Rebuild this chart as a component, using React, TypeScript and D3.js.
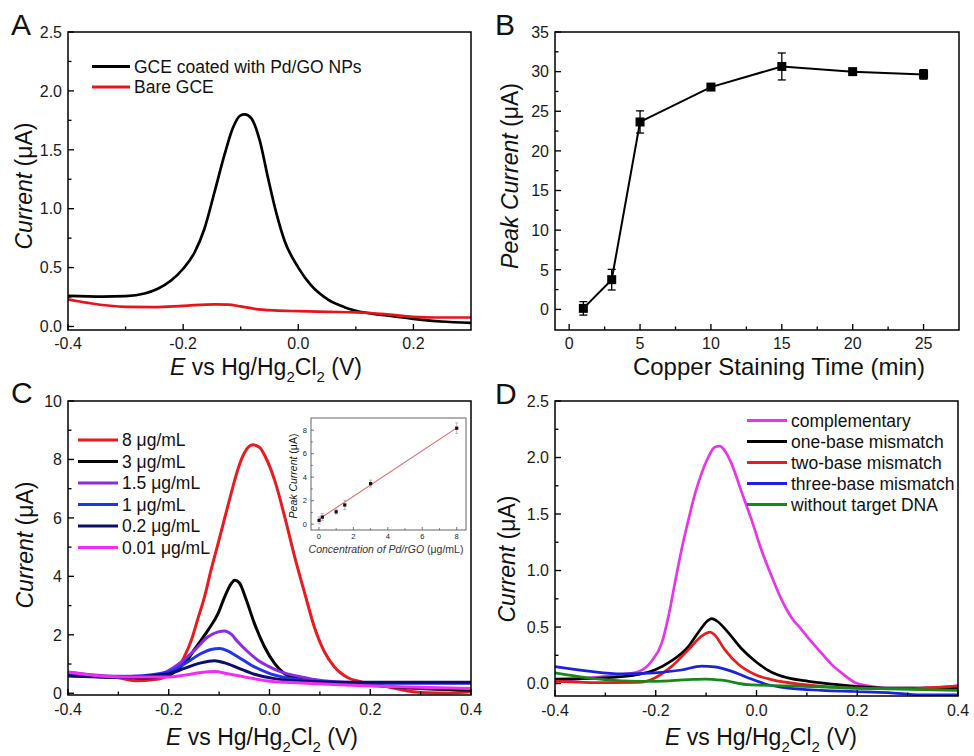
import React from 'react';
import * as d3 from 'd3';

const FONT = 'Liberation Sans, Arial, Helvetica, sans-serif';

type Pt = [number, number];

// ---------- Panel A: DPV, coated vs bare GCE
const aCoated: Pt[] = [
  [-0.4, 0.26], [-0.34, 0.254], [-0.3, 0.258], [-0.267, 0.28], [-0.244, 0.32], [-0.221, 0.39],
  [-0.2, 0.49], [-0.18, 0.63], [-0.163, 0.83], [-0.145, 1.15], [-0.128, 1.46], [-0.114, 1.68],
  [-0.101, 1.79], [-0.093, 1.8], [-0.082, 1.77], [-0.067, 1.58], [-0.053, 1.27], [-0.038, 0.96],
  [-0.024, 0.73], [0.0, 0.5], [0.022, 0.35], [0.051, 0.23], [0.08, 0.164], [0.1, 0.134],
  [0.15, 0.095], [0.2, 0.065], [0.248, 0.042], [0.3, 0.03],
];
const aBare: Pt[] = [
  [-0.4, 0.23], [-0.365, 0.2], [-0.3, 0.166], [-0.25, 0.164], [-0.2, 0.175], [-0.145, 0.188],
  [-0.122, 0.186], [-0.1, 0.17], [-0.076, 0.15], [-0.041, 0.136], [0.0, 0.13], [0.051, 0.124],
  [0.1, 0.12], [0.15, 0.105], [0.2, 0.082], [0.237, 0.076], [0.3, 0.076],
];
const aLegend = ['GCE coated with Pd/GO NPs', 'Bare GCE'];
const aColors = ['#000000', '#e8141a'];
const aXTicks = [-0.4, -0.2, 0.0, 0.2];
const aXMinor = [-0.3, -0.1, 0.1];
const aYTicks = [0, 0.5, 1.0, 1.5, 2.0, 2.5];
const aYMinor = [0.25, 0.75, 1.25, 1.75, 2.25];

// ---------- Panel B: copper staining time
const bTime = [1, 3, 5, 10, 15, 20, 25];
const bPeak = [0.13, 3.75, 23.65, 28.05, 30.65, 30.0, 29.65];
const bErr = [0.85, 1.3, 1.4, 0.3, 1.7, 0.3, 0.6];
const bXTicks = [0, 5, 10, 15, 20, 25];
const bXMinor = [2.5, 7.5, 12.5, 17.5, 22.5];
const bYTicks = [0, 5, 10, 15, 20, 25, 30, 35];
const bYMinor = [2.5, 7.5, 12.5, 17.5, 22.5, 27.5, 32.5];

// ---------- Panel C: Pd/rGO concentrations
const c8: Pt[] = [
  [-0.4, 0.65], [-0.35, 0.6], [-0.3, 0.53], [-0.267, 0.43], [-0.228, 0.47], [-0.2, 0.62],
  [-0.18, 0.9], [-0.169, 1.25], [-0.155, 1.82], [-0.142, 2.56], [-0.129, 3.3], [-0.116, 4.22],
  [-0.102, 5.13], [-0.089, 5.99], [-0.076, 6.85], [-0.063, 7.65], [-0.05, 8.22], [-0.033, 8.5],
  [-0.02, 8.42], [-0.007, 8.05], [0.01, 7.3], [0.03, 6.05], [0.05, 4.67], [0.07, 3.42],
  [0.089, 2.27], [0.109, 1.42], [0.129, 0.9], [0.155, 0.54], [0.182, 0.39], [0.2, 0.33],
  [0.235, 0.22], [0.274, 0.08], [0.314, 0.02], [0.36, 0.01], [0.4, 0.05],
];
const c3: Pt[] = [
  [-0.4, 0.6], [-0.3, 0.55], [-0.25, 0.52], [-0.2, 0.62], [-0.18, 0.85], [-0.165, 1.1],
  [-0.149, 1.5], [-0.122, 2.16], [-0.102, 2.73], [-0.089, 3.3], [-0.076, 3.75], [-0.069, 3.87],
  [-0.06, 3.78], [-0.046, 3.19], [-0.03, 2.39], [-0.01, 1.59], [0.01, 1.02], [0.03, 0.67],
  [0.063, 0.47], [0.1, 0.39], [0.2, 0.27], [0.3, 0.16], [0.4, 0.1],
];
const c15: Pt[] = [
  [-0.4, 0.73], [-0.3, 0.58], [-0.235, 0.58], [-0.202, 0.76], [-0.175, 1.07], [-0.149, 1.47],
  [-0.122, 1.93], [-0.102, 2.1], [-0.089, 2.13], [-0.076, 2.02], [-0.063, 1.76], [-0.043, 1.42],
  [-0.023, 1.13], [-0.003, 0.93], [0.023, 0.73], [0.063, 0.56], [0.089, 0.47], [0.15, 0.38],
  [0.25, 0.36], [0.4, 0.36],
];
const c1: Pt[] = [
  [-0.4, 0.65], [-0.3, 0.56], [-0.202, 0.72], [-0.169, 1.0], [-0.136, 1.36], [-0.116, 1.5],
  [-0.099, 1.53], [-0.083, 1.45], [-0.063, 1.25], [-0.036, 0.96], [-0.003, 0.7], [0.03, 0.54],
  [0.089, 0.41], [0.15, 0.36], [0.25, 0.34], [0.4, 0.34],
];
const c02: Pt[] = [
  [-0.4, 0.6], [-0.3, 0.54], [-0.202, 0.66], [-0.169, 0.85], [-0.136, 1.04], [-0.109, 1.11],
  [-0.089, 1.04], [-0.063, 0.87], [-0.03, 0.65], [0.01, 0.5], [0.063, 0.41], [0.15, 0.38],
  [0.4, 0.38],
];
const c001: Pt[] = [
  [-0.4, 0.72], [-0.3, 0.56], [-0.202, 0.56], [-0.169, 0.62], [-0.136, 0.71], [-0.109, 0.74],
  [-0.083, 0.67], [-0.05, 0.56], [-0.003, 0.42], [0.063, 0.35], [0.15, 0.28], [0.25, 0.22],
  [0.4, 0.16],
];
const cSeries = [c8, c3, c15, c1, c02, c001];
const cLegend = ['8 μg/mL', '3 μg/mL', '1.5 μg/mL', '1 μg/mL', '0.2 μg/mL', '0.01 μg/mL'];
const cColors = ['#ea1a1f', '#050505', '#8a2be6', '#2233ee', '#0d0d6e', '#f22cf2'];
const cXTicks = [-0.4, -0.2, 0.0, 0.2, 0.4];
const cXMinor = [-0.3, -0.1, 0.1, 0.3];
const cYTicks = [0, 2, 4, 6, 8, 10];
const cYMinor = [1, 3, 5, 7, 9];

// inset: calibration
const insConc = [0.01, 0.2, 1, 1.5, 3, 8];
const insPeak = [0.32, 0.6, 1.05, 1.63, 3.45, 8.17];
const insErr = [0.3, 0.3, 0.2, 0.4, 0.3, 0.45];
const insFit: Pt[] = [[0, 0.42], [8, 8.2]];
const insTicks = [0, 2, 4, 6, 8];
const insMinor = [1, 3, 5, 7];

// ---------- Panel D: selectivity
const dComp: Pt[] = [
  [-0.4, 0.02], [-0.334, 0.05], [-0.3, 0.065], [-0.268, 0.08], [-0.235, 0.105], [-0.208, 0.2],
  [-0.188, 0.36], [-0.175, 0.59], [-0.162, 0.89], [-0.149, 1.18], [-0.135, 1.45], [-0.122, 1.68],
  [-0.109, 1.86], [-0.096, 2.0], [-0.083, 2.09], [-0.073, 2.1], [-0.063, 2.06], [-0.05, 1.95],
  [-0.03, 1.7], [-0.01, 1.45], [0.01, 1.18], [0.03, 0.95], [0.05, 0.74], [0.07, 0.58],
  [0.089, 0.48], [0.109, 0.37], [0.129, 0.27], [0.149, 0.17], [0.169, 0.094], [0.195, 0.01],
  [0.222, -0.02], [0.261, -0.04], [0.327, -0.04], [0.4, -0.02],
];
const dOne: Pt[] = [
  [-0.4, 0.04], [-0.3, 0.05], [-0.235, 0.08], [-0.202, 0.12], [-0.169, 0.2], [-0.135, 0.33],
  [-0.116, 0.45], [-0.096, 0.56], [-0.089, 0.575], [-0.076, 0.545], [-0.056, 0.45], [-0.03, 0.31],
  [-0.003, 0.2], [0.03, 0.1], [0.063, 0.05], [0.103, 0.02], [0.162, -0.01], [0.261, -0.04],
  [0.4, -0.04],
];
const dTwo: Pt[] = [
  [-0.4, 0.02], [-0.3, 0.008], [-0.235, 0.01], [-0.202, 0.05], [-0.169, 0.15], [-0.135, 0.3],
  [-0.109, 0.42], [-0.092, 0.455], [-0.083, 0.43], [-0.063, 0.3], [-0.036, 0.17], [-0.003, 0.08],
  [0.03, 0.035], [0.096, -0.01], [0.195, -0.04], [0.294, -0.045], [0.4, -0.02],
];
const dThree: Pt[] = [
  [-0.4, 0.15], [-0.334, 0.11], [-0.268, 0.085], [-0.202, 0.095], [-0.149, 0.12], [-0.109, 0.155],
  [-0.083, 0.147], [-0.05, 0.11], [-0.016, 0.05], [0.023, -0.01], [0.063, -0.04], [0.129, -0.06],
  [0.195, -0.07], [0.261, -0.08], [0.327, -0.1], [0.4, -0.1],
];
const dNone: Pt[] = [
  [-0.4, 0.094], [-0.334, 0.05], [-0.268, 0.025], [-0.202, 0.02], [-0.135, 0.035], [-0.102, 0.04],
  [-0.069, 0.03], [-0.016, -0.01], [0.063, -0.02], [0.195, -0.04], [0.4, -0.06],
];
const dSeries = [dComp, dOne, dTwo, dThree, dNone];
const dLegend = ['complementary', 'one-base mismatch', 'two-base mismatch', 'three-base mismatch', 'without target DNA'];
const dColors = ['#e935e9', '#000000', '#e81c1c', '#1a22dc', '#15891a'];
const dYTicks = [0, 0.5, 1.0, 1.5, 2.0, 2.5];
const dYMinor = [0.25, 0.75, 1.25, 1.75, 2.25];

type Scale = d3.ScaleLinear<number, number>;

function Axes({ x, y, xTicks, xMinor, yTicks, yMinor, fmtX, fmtY, fs = 16, major = 6, minor = 3.5, sw = 1.5, color = '#000', labGap = 6, xLabDy = 20 }: {
  x: Scale; y: Scale; xTicks: number[]; xMinor: number[]; yTicks: number[]; yMinor: number[];
  fmtX: (d: number) => string; fmtY: (d: number) => string; fs?: number; major?: number; minor?: number;
  sw?: number; color?: string; labGap?: number; xLabDy?: number;
}) {
  const [x0, x1] = x.range();
  const [yb, yt] = y.range();
  return (
    <g>
      <g stroke={color} strokeWidth={sw * 0.9}>
        {xTicks.map((t) => <line key={'xt' + t} x1={x(t)} x2={x(t)} y1={yb} y2={yb - major} />)}
        {xMinor.map((t) => <line key={'xm' + t} x1={x(t)} x2={x(t)} y1={yb} y2={yb - minor} />)}
        {yTicks.map((t) => <line key={'yt' + t} x1={x0} x2={x0 + major} y1={y(t)} y2={y(t)} />)}
        {yMinor.map((t) => <line key={'ym' + t} x1={x0} x2={x0 + minor} y1={y(t)} y2={y(t)} />)}
      </g>
      <rect x={x0} y={yt} width={x1 - x0} height={yb - yt} fill="none" stroke={color} strokeWidth={sw} />
      <g fontSize={fs} fill="#1a1a1a" fontFamily={FONT}>
        {xTicks.map((t) => (
          <text key={'xl' + t} x={x(t)} y={yb + xLabDy} textAnchor="middle">{fmtX(t)}</text>
        ))}
        {yTicks.map((t) => (
          <text key={'yl' + t} x={x0 - labGap} y={y(t)} dy="0.36em" textAnchor="end">{fmtY(t)}</text>
        ))}
      </g>
    </g>
  );
}

function Curves({ x, y, series, colors, width, id }: { x: Scale; y: Scale; series: Pt[][]; colors: string[]; width: number; id: string }) {
  const [x0, x1] = x.range();
  const [yb, yt] = y.range();
  const gen = d3.line<Pt>().curve(d3.curveMonotoneX).x((d) => x(d[0])).y((d) => y(d[1]));
  return (
    <g>
      <clipPath id={id}><rect x={x0} y={yt} width={x1 - x0} height={yb - yt} /></clipPath>
      <g clipPath={`url(#${id})`} fill="none" strokeWidth={width} strokeLinejoin="round" strokeLinecap="round">
        {series.map((s, i) => <path key={i} d={gen(s) || ''} stroke={colors[i]} />)}
      </g>
    </g>
  );
}

function Legend({ x, y, step, labels, colors, fs = 17.5, len = 40, sw = 3.2 }: { x: number; y: number; step: number; labels: string[]; colors: string[]; fs?: number; len?: number; sw?: number }) {
  return (
    <g fontFamily={FONT} fontSize={fs} fill="#111">
      {labels.map((l, i) => (
        <g key={l} transform={`translate(${x},${y + i * step})`}>
          <line x1={0} x2={len} y1={0} y2={0} stroke={colors[i]} strokeWidth={sw} />
          <text x={len + 4} y={0} dy="0.36em">{l}</text>
        </g>
      ))}
    </g>
  );
}

function EAxisTitle({ cx, y }: { cx: number; y: number }) {
  return (
    <text x={cx} y={y} textAnchor="middle" fontFamily={FONT} fontSize={23} fill="#111">
      <tspan fontStyle="italic">E</tspan> vs Hg/Hg<tspan fontSize={15} dy={7}>2</tspan>
      <tspan dy={-7}>Cl</tspan><tspan fontSize={15} dy={7}>2</tspan>
      <tspan dy={-7}> (V)</tspan>
    </text>
  );
}

function YTitle({ x, cy, italic, rest, fs = 23 }: { x: number; cy: number; italic: string; rest: string; fs?: number }) {
  return (
    <text transform={`translate(${x},${cy}) rotate(-90)`} textAnchor="middle" fontFamily={FONT} fontSize={fs} fill="#111">
      <tspan fontStyle="italic">{italic}</tspan>{rest}
    </text>
  );
}

const f1 = (d: number) => d.toFixed(1);
const f0 = (d: number) => String(d);

export default function App() {
  // panel A
  const ax = d3.scaleLinear().domain([-0.4, 0.3]).range([68, 471]);
  const ay = d3.scaleLinear().domain([-0.03, 2.5]).range([330, 32]);
  // panel B
  const bx = d3.scaleLinear().domain([-1, 27.5]).range([555, 959]);
  const by = d3.scaleLinear().domain([-2.6, 35]).range([330, 32]);
  // panel C
  const cx = d3.scaleLinear().domain([-0.4, 0.4]).range([68, 471]);
  const cy = d3.scaleLinear().domain([-0.06, 10]).range([695, 401]);
  // inset
  const ix = d3.scaleLinear().domain([-0.46, 8.54]).range([311, 466]);
  const iy = d3.scaleLinear().domain([-0.5, 9.04]).range([530, 418]);
  // panel D
  const dx = d3.scaleLinear().domain([-0.4, 0.4]).range([555, 958]);
  const dy = d3.scaleLinear().domain([-0.11, 2.5]).range([696, 401]);

  const bLine = d3.line<number>().x((_, i) => bx(bTime[i])).y((d) => by(d));
  const fitLine = d3.line<Pt>().x((d) => ix(d[0])).y((d) => iy(d[1]));

  return (
    <svg width={974} height={756} style={{ position: 'absolute', left: 0, top: 0, background: '#fff' }}>
      <rect width={974} height={756} fill="#fff" />
      {/* panel letters */}
      <g fontFamily={FONT} fontSize={30} fill="#111">
        <text x={11} y={35}>A</text>
        <text x={495} y={35}>B</text>
        <text x={11} y={403}>C</text>
        <text x={495} y={404}>D</text>
      </g>

      {/* ---- A ---- */}
      <Curves x={ax} y={ay} series={[aCoated, aBare]} colors={aColors} width={2.7} id="clipA" />
      <Axes x={ax} y={ay} xTicks={aXTicks} xMinor={aXMinor} yTicks={aYTicks} yMinor={aYMinor} fmtX={f1} fmtY={f1} xLabDy={19} />
      <Legend x={92} y={66.5} step={20.5} labels={aLegend} colors={aColors} len={38} />
      <EAxisTitle cx={266} y={375} />
      <YTitle x={32} cy={186} italic="Current" rest=" (μA)" />

      {/* ---- B ---- */}
      <path d={bLine(bPeak) || ''} fill="none" stroke="#000" strokeWidth={2} />
      <g stroke="#000" strokeWidth={1.3}>
        {bTime.map((t, i) => (
          <g key={t}>
            <line x1={bx(t)} x2={bx(t)} y1={by(bPeak[i] - bErr[i])} y2={by(bPeak[i] + bErr[i])} />
            <line x1={bx(t) - 4} x2={bx(t) + 4} y1={by(bPeak[i] - bErr[i])} y2={by(bPeak[i] - bErr[i])} />
            <line x1={bx(t) - 4} x2={bx(t) + 4} y1={by(bPeak[i] + bErr[i])} y2={by(bPeak[i] + bErr[i])} />
          </g>
        ))}
      </g>
      {bTime.map((t, i) => (
        <rect key={'m' + t} x={bx(t) - 4.5} y={by(bPeak[i]) - 4.5} width={9} height={9} fill="#000" />
      ))}
      <Axes x={bx} y={by} xTicks={bXTicks} xMinor={bXMinor} yTicks={bYTicks} yMinor={bYMinor} fmtX={f0} fmtY={f0} xLabDy={19} />
      <text x={779} y={375} textAnchor="middle" fontFamily={FONT} fontSize={24} fill="#111">Copper Staining Time (min)</text>
      <YTitle x={518} cy={176} italic="Peak Current" rest=" (μA)" />

      {/* ---- C ---- */}
      <Curves x={cx} y={cy} series={cSeries} colors={cColors} width={3} id="clipC" />
      <Axes x={cx} y={cy} xTicks={cXTicks} xMinor={cXMinor} yTicks={cYTicks} yMinor={cYMinor} fmtX={f1} fmtY={f0} />
      <Legend x={78} y={440} step={21.5} labels={cLegend} colors={cColors} />
      <EAxisTitle cx={262} y={745} />
      <YTitle x={33} cy={545} italic="Current" rest=" (μA)" />

      {/* inset */}
      <rect x={311} y={418} width={155} height={112} fill="#fff" />
      <path d={fitLine(insFit) || ''} stroke="#e06a60" strokeWidth={1.1} fill="none" />
      <g stroke="#aaa" strokeWidth={0.8}>
        {insConc.map((c, i) => (
          <g key={c}>
            <line x1={ix(c)} x2={ix(c)} y1={iy(insPeak[i] - insErr[i])} y2={iy(insPeak[i] + insErr[i])} />
            <line x1={ix(c) - 1.5} x2={ix(c) + 1.5} y1={iy(insPeak[i] - insErr[i])} y2={iy(insPeak[i] - insErr[i])} />
            <line x1={ix(c) - 1.5} x2={ix(c) + 1.5} y1={iy(insPeak[i] + insErr[i])} y2={iy(insPeak[i] + insErr[i])} />
          </g>
        ))}
      </g>
      {insConc.map((c, i) => (
        <rect key={'p' + c} x={ix(c) - 1.6} y={iy(insPeak[i]) - 1.6} width={3.2} height={3.2} fill="#111" />
      ))}
      <Axes x={ix} y={iy} xTicks={insTicks} xMinor={insMinor} yTicks={insTicks} yMinor={insMinor} fmtX={f0} fmtY={f0}
        fs={7.5} major={3} minor={1.8} sw={0.9} color="#555" labGap={4} xLabDy={8.5} />
      <text x={386} y={553} textAnchor="middle" fontFamily={FONT} fontSize={10.5} fill="#333">
        <tspan fontStyle="italic">Concentration of Pd/rGO</tspan> (μg/mL)
      </text>
      <YTitle x={297} cy={476} italic="Peak Current" rest=" (μA)" fs={10.5} />

      {/* ---- D ---- */}
      <Curves x={dx} y={dy} series={dSeries} colors={dColors} width={2.7} id="clipD" />
      <Axes x={dx} y={dy} xTicks={cXTicks} xMinor={cXMinor} yTicks={dYTicks} yMinor={dYMinor} fmtX={f1} fmtY={f1} />
      <Legend x={747} y={420.5} step={21} labels={dLegend} colors={dColors} />
      <EAxisTitle cx={761} y={745} />
      <YTitle x={515} cy={559} italic="Current" rest=" (μA)" />
    </svg>
  );
}
